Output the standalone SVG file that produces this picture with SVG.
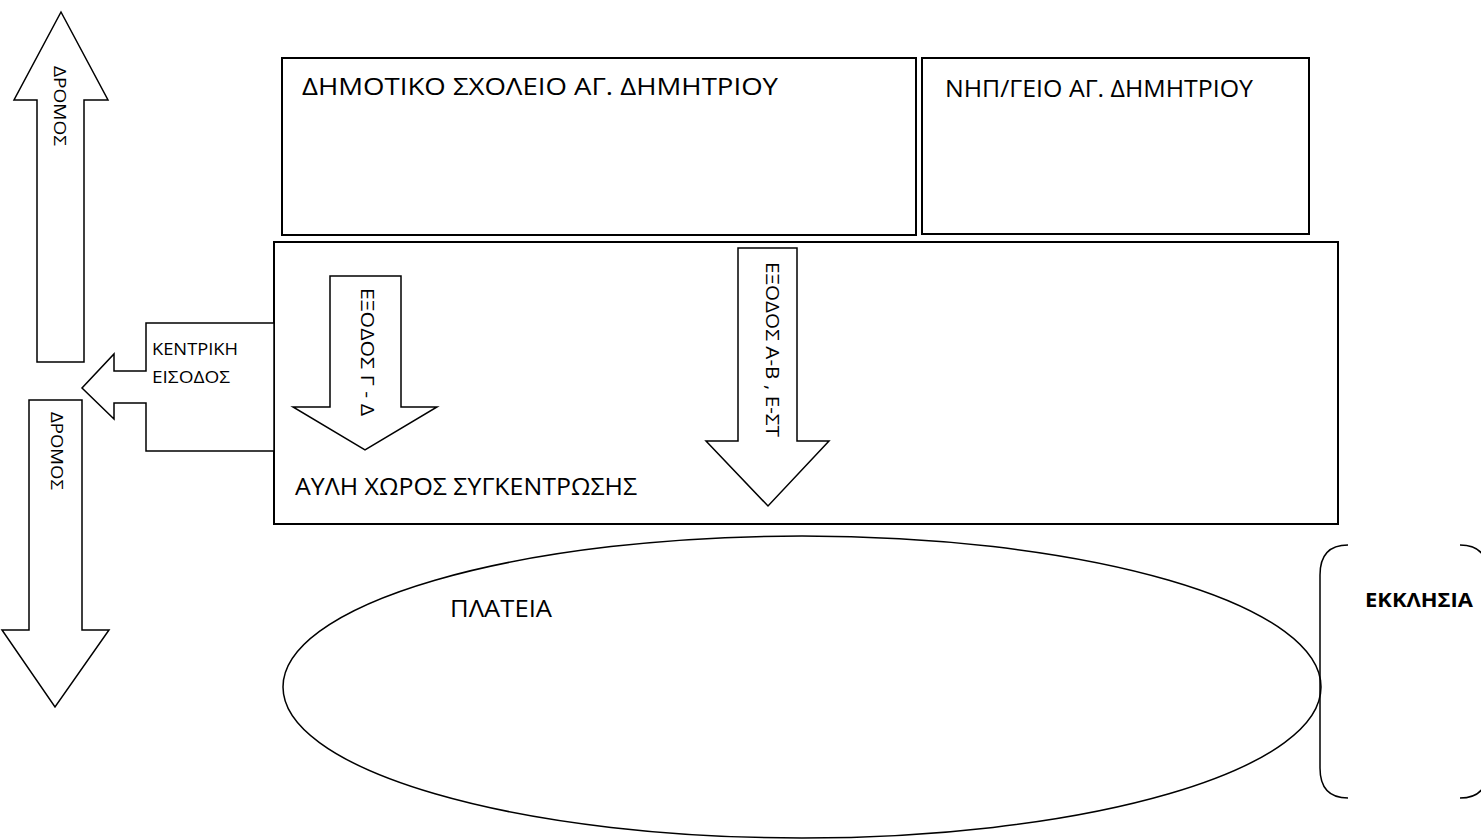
<svg xmlns="http://www.w3.org/2000/svg" width="1481" height="839" viewBox="0 0 1481 839">
<style>
.s{fill:#fff;stroke:#000;stroke-width:1.5;stroke-linejoin:miter}
.r{fill:#fff;stroke:#000;stroke-width:2}
.t{font-family:"Open Sans","Noto Sans","DejaVu Sans",sans-serif;fill:#000}
.b{font-weight:bold}
</style>
<rect width="1481" height="839" fill="#fff"/>
<g id="road-up">
<polygon class="s" points="61,12 108,100 84,100 84,362 37,362 37,100 14,100"/>
<text class="t" font-size="17" transform="translate(54,66) rotate(90)" textLength="80" lengthAdjust="spacingAndGlyphs">ΔΡΟΜΟΣ</text>
</g>
<g id="road-down">
<polygon class="s" points="29,400 82,400 82,630 109,630 55,707 2,630 29,630"/>
<text class="t" font-size="17" transform="translate(51,412) rotate(90)" textLength="78" lengthAdjust="spacingAndGlyphs">ΔΡΟΜΟΣ</text>
</g>
<g id="school">
<rect class="r" x="282" y="58" width="634" height="177"/>
<text class="t" font-size="24" x="302" y="95" textLength="476" lengthAdjust="spacingAndGlyphs">ΔΗΜΟΤΙΚΟ ΣΧΟΛΕΙΟ ΑΓ. ΔΗΜΗΤΡΙΟΥ</text>
</g>
<g id="kindergarten">
<rect class="r" x="922" y="58" width="387" height="176"/>
<text class="t" font-size="24" x="945" y="97" textLength="308" lengthAdjust="spacingAndGlyphs">ΝΗΠ/ΓΕΙΟ ΑΓ. ΔΗΜΗΤΡΙΟΥ</text>
</g>
<g id="yard">
<rect class="r" x="274" y="242" width="1064" height="282"/>
<text class="t" font-size="24" x="295" y="495" textLength="342" lengthAdjust="spacingAndGlyphs">ΑΥΛΗ ΧΩΡΟΣ ΣΥΓΚΕΝΤΡΩΣΗΣ</text>
</g>
<g id="main-entrance">
<polygon class="s" points="274,323 146,323 146,371 114,371 114,354 82,388 114,419 114,403 146,403 146,451 274,451"/>
<text class="t" font-size="16" x="152" y="355" textLength="86" lengthAdjust="spacingAndGlyphs">ΚΕΝΤΡΙΚΗ</text>
<text class="t" font-size="16" x="152" y="383" textLength="78" lengthAdjust="spacingAndGlyphs">ΕΙΣΟΔΟΣ</text>
</g>
<g id="exit-gd">
<polygon class="s" points="330,276 401,276 401,407 437,407 365,450 293,407 330,407"/>
<text class="t" font-size="18" transform="translate(361,288) rotate(90)" textLength="128" lengthAdjust="spacingAndGlyphs">ΕΞΟΔΟΣ Γ - Δ</text>
</g>
<g id="exit-ab">
<polygon class="s" points="738,248 797,248 797,441 829,441 768,506 706,441 738,441"/>
<text class="t" font-size="18" transform="translate(766,262) rotate(90)" textLength="175" lengthAdjust="spacingAndGlyphs">ΕΞΟΔΟΣ Α-Β , Ε-ΣΤ</text>
</g>
<g id="square">
<ellipse class="s" cx="802" cy="687" rx="519" ry="151"/>
<text class="t" font-size="24" x="450" y="617" textLength="102" lengthAdjust="spacingAndGlyphs">ΠΛΑΤΕΙΑ</text>
</g>
<g id="church">
<path fill="none" stroke="#000" stroke-width="1.5" d="M1348,545 Q1320,545 1320,575 L1320,768 Q1320,798 1348,798"/>
<path fill="none" stroke="#000" stroke-width="1.5" d="M1460,545 Q1488,545 1488,575 L1488,768 Q1488,798 1460,798"/>
<text class="t b" font-size="19" x="1365" y="607" textLength="108" lengthAdjust="spacingAndGlyphs">ΕΚΚΛΗΣΙΑ</text>
</g>
<g id="connectors"></g>
</svg>
